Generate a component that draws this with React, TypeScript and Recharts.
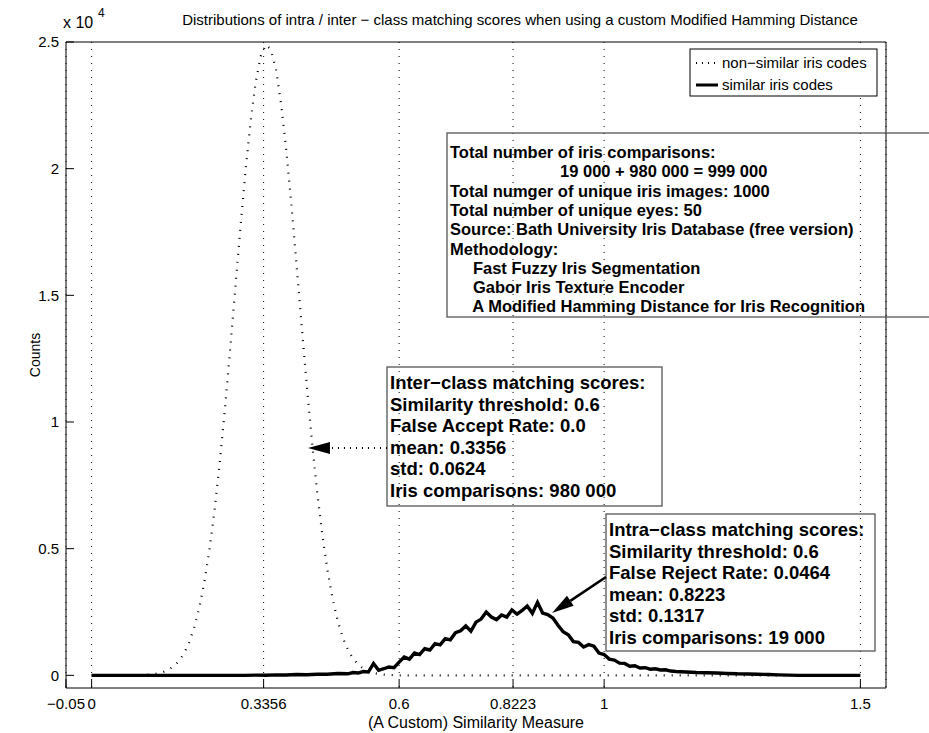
import { LineChart, Line, XAxis, YAxis, CartesianGrid } from 'recharts'

// inter-class histogram (dotted curve), score -> count
const interScores = [
  0, 0.05, 0.1, 0.11, 0.12, 0.13, 0.14, 0.15, 0.16, 0.17, 0.18, 0.19, 0.2, 0.21, 0.22, 0.23, 0.24,
  0.25, 0.26, 0.27, 0.28, 0.29, 0.3, 0.31, 0.32, 0.33, 0.34, 0.35, 0.36, 0.37, 0.38, 0.39, 0.4,
  0.41, 0.42, 0.43, 0.44, 0.45, 0.46, 0.47, 0.48, 0.49, 0.5, 0.51, 0.52, 0.53, 0.54, 0.55, 0.56,
  0.57, 0.58, 0.59, 0.6, 1.5,
]
const interCounts = [
  0, 0, 14, 25, 44, 78, 132, 219, 354, 557, 856, 1280, 1870, 2660, 3680, 4970, 6550,
  8400, 10500, 12800, 15200, 17600, 19850, 21830, 23400, 24440, 24890, 24700, 23890, 22510, 20690, 18520, 16160,
  13750, 11400, 9210, 7250, 5570, 4170, 3040, 2160, 1490, 1010, 664, 426, 266, 162, 96, 56,
  31, 17, 9, 0, 0,
]

// intra-class histogram (solid curve)
const intraScores = [
  0, 0.3, 0.32, 0.34, 0.36, 0.38, 0.4, 0.42, 0.44, 0.46, 0.48, 0.5, 0.51, 0.52, 0.53, 0.54, 0.55,
  0.56, 0.57, 0.58, 0.59, 0.6, 0.61, 0.62, 0.63, 0.64, 0.65, 0.66, 0.67, 0.68, 0.69, 0.7, 0.71,
  0.72, 0.73, 0.74, 0.75, 0.76, 0.77, 0.78, 0.79, 0.8, 0.81, 0.82, 0.83, 0.84, 0.85, 0.86, 0.87,
  0.88, 0.89, 0.9, 0.91, 0.92, 0.93, 0.94, 0.95, 0.96, 0.97, 0.98, 0.99, 1, 1.01, 1.02, 1.03,
  1.04, 1.05, 1.06, 1.07, 1.08, 1.09, 1.1, 1.11, 1.12, 1.13, 1.14, 1.16, 1.18, 1.2, 1.22, 1.24,
  1.26, 1.28, 1.3, 1.32, 1.34, 1.36, 1.38, 1.5,
]
const intraCounts = [
  0, 0, 10, 5, 20, 15, 30, 25, 45, 40, 70, 60, 110, 90, 150, 130, 470,
  200, 260, 330, 300, 520, 720, 640, 880, 820, 1050, 1000, 1250, 1200, 1450, 1400, 1680,
  1760, 1950, 1740, 2100, 2220, 2500, 2300, 2200, 2380, 2300, 2580, 2420, 2560, 2740, 2450, 2880,
  2460, 2400, 2260, 1980, 1720, 1600, 1330, 1300, 1120, 1210, 1150, 880, 820, 640, 600, 480,
  470, 360, 380, 290, 300, 240, 260, 210, 220, 170, 150, 130, 110, 100, 90, 75,
  60, 55, 45, 30, 20, 10, 0, 0,
]

const xTicks = [-0.05, 0, 0.3356, 0.6, 0.8223, 1, 1.5]
const yTicks = [0, 5000, 10000, 15000, 20000, 25000]

const legendLabels = ['non\u2212similar iris codes', 'similar iris codes']

const summaryLines = [
  'Total number of iris comparisons:',
  '                        19 000 + 980 000 = 999 000',
  'Total numger of unique iris images: 1000',
  'Total number of unique eyes: 50',
  'Source: Bath University Iris Database (free version)',
  'Methodology:',
  '     Fast Fuzzy Iris Segmentation',
  '     Gabor Iris Texture Encoder',
  '     A Modified Hamming Distance for Iris Recognition',
]
const interLines = [
  'Inter\u2212class matching scores:',
  'Similarity threshold: 0.6',
  'False Accept Rate: 0.0',
  'mean: 0.3356',
  'std: 0.0624',
  'Iris comparisons: 980 000',
]
const intraLines = [
  'Intra\u2212class matching scores:',
  'Similarity threshold: 0.6',
  'False Reject Rate: 0.0464',
  'mean: 0.8223',
  'std: 0.1317',
  'Iris comparisons: 19 000',
]

const interData = interScores.map((s, i) => ({ score: s, count: interCounts[i] }))
const intraData = intraScores.map((s, i) => ({ score: s, count: intraCounts[i] }))

const FONT = '"Liberation Sans", Arial, Helvetica, sans-serif'

function XTick({ x, y, payload }: any) {
  const v = payload.value
  const label = v < 0 ? '\u2212' + String(-v) : String(v)
  return (
    <text x={x} y={y} dy={15} textAnchor="middle" fontSize={15} fontFamily={FONT} fill="#000">
      {label}
    </text>
  )
}

function TextBox({ x, y, w, h, lines, size, gap, first }: any) {
  return (
    <g>
      <rect x={x} y={y} width={w} height={h} fill="none" stroke="#555" strokeWidth={1.3} />
      {lines.map((t: string, i: number) => (
        <text key={i} x={x + 3} y={y + first + i * gap} fontSize={size} fontWeight="bold"
          fontFamily={FONT} fill="#000" style={{ whiteSpace: 'pre' }}>
          {t}
        </text>
      ))}
    </g>
  )
}

function Arrow({ x1, y1, x2, y2, dashed }: any) {
  const dx = x2 - x1
  const dy = y2 - y1
  const len = Math.sqrt(dx * dx + dy * dy)
  const ux = dx / len
  const uy = dy / len
  const hl = 22
  const hw = 6
  const bx = x2 - ux * hl
  const by = y2 - uy * hl
  return (
    <g>
      <line x1={x1} y1={y1} x2={bx} y2={by} stroke="#000" strokeWidth={dashed ? 2 : 2.6}
        strokeDasharray={dashed ? '1 5' : undefined} />
      <polygon points={`${x2},${y2} ${bx - uy * hw},${by + ux * hw} ${bx + uy * hw},${by - ux * hw}`} fill="#000" />
    </g>
  )
}

export default function App() {
  return (
    <div style={{ position: 'absolute', left: 0, top: 0, width: 929, height: 733, background: '#fff', overflow: 'hidden' }}>
      <LineChart width={929} height={733} margin={{ top: 41, right: 42, bottom: 15, left: 16 }}>
        <CartesianGrid horizontal={false} stroke="#000" strokeDasharray="1 6" />
        <XAxis dataKey="score" type="number" domain={[-0.05, 1.55]} ticks={xTicks} interval={0}
          height={30} tickSize={-8} tickMargin={14} tick={<XTick />}
          axisLine={{ stroke: '#000' }} tickLine={{ stroke: '#000' }} />
        <XAxis xAxisId="top" orientation="top" type="number" domain={[-0.05, 1.55]} ticks={xTicks}
          interval={0} height={1} tickSize={-8} tick={false}
          axisLine={{ stroke: '#000' }} tickLine={{ stroke: '#000' }} />
        <YAxis type="number" domain={[-500, 25000]} ticks={yTicks} interval={0} width={50}
          tickSize={-8} tickMargin={15} tickFormatter={(v: number) => String(v / 10000)}
          tick={{ fontSize: 15, fontFamily: FONT, fill: '#000' }}
          axisLine={{ stroke: '#000' }} tickLine={{ stroke: '#000' }} />
        <YAxis yAxisId="right" orientation="right" type="number" domain={[-500, 25000]} ticks={yTicks}
          interval={0} width={1} tickSize={-8} tick={false}
          axisLine={{ stroke: '#000' }} tickLine={{ stroke: '#000' }} />
        <Line data={interData} dataKey="count" type="linear" dot={false} stroke="#000" strokeWidth={2.2}
          strokeDasharray="1 7" isAnimationActive={false} />
        <Line data={intraData} dataKey="count" type="linear" dot={false} stroke="#000" strokeWidth={3.4}
          isAnimationActive={false} />
      </LineChart>
      <svg width={929} height={733} style={{ position: 'absolute', left: 0, top: 0, pointerEvents: 'none' }}>
        <text x={520} y={25} textAnchor="middle" fontSize={15} fontFamily={FONT} fill="#000">
          Distributions of intra / inter {'\u2212'} class matching scores when using a custom Modified Hamming Distance
        </text>
        <text x={63} y={28} fontSize={16} fontFamily={FONT} fill="#000">x 10</text>
        <text x={98} y={17} fontSize={12} fontFamily={FONT} fill="#000">4</text>
        <text x={0} y={0} transform="translate(40,355) rotate(-90)" textAnchor="middle" fontSize={14}
          fontFamily={FONT} fill="#000">Counts</text>
        <text x={476} y={728} textAnchor="middle" fontSize={16} fontFamily={FONT} fill="#000">
          (A Custom) Similarity Measure
        </text>

        {/* legend */}
        <rect x={690} y={49} width={187} height={47} fill="#fff" stroke="#000" strokeWidth={1} />
        <line x1={696} y1={63} x2={718} y2={63} stroke="#000" strokeWidth={2} strokeDasharray="1 5" />
        <line x1={696} y1={85} x2={718} y2={85} stroke="#000" strokeWidth={3} />
        <text x={722} y={68} fontSize={15} fontFamily={FONT} fill="#000">{legendLabels[0]}</text>
        <text x={722} y={90} fontSize={15} fontFamily={FONT} fill="#000">{legendLabels[1]}</text>

        <TextBox x={447} y={133} w={520} h={184} lines={summaryLines} size={16.5} gap={19.3} first={25} />
        <TextBox x={387} y={367} w={275} h={139} lines={interLines} size={18.5} gap={21.5} first={22} />
        <TextBox x={606} y={514} w={269} h={137} lines={intraLines} size={18.5} gap={21.5} first={22} />

        <Arrow x1={387} y1={448} x2={308} y2={448} dashed />
        <Arrow x1={606} y1={577} x2={552} y2={613} />
      </svg>
    </div>
  )
}
